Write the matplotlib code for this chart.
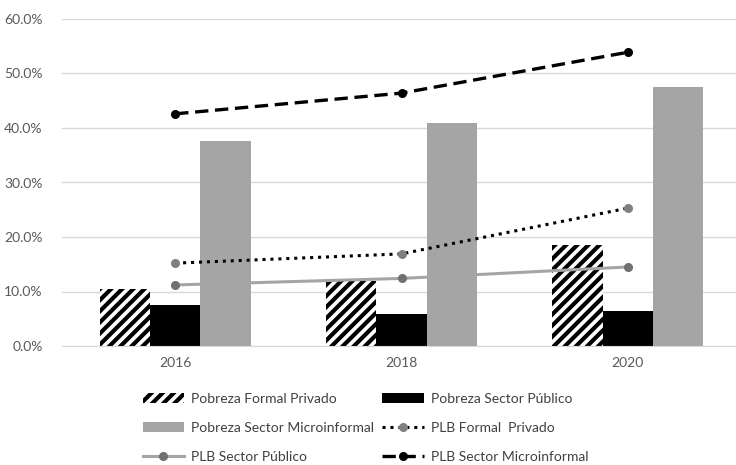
import numpy as np
import matplotlib.pyplot as plt
from matplotlib.ticker import PercentFormatter

plt.rcParams['font.family'] = ['Lato', 'DejaVu Sans']
plt.rcParams['hatch.linewidth'] = 3.0

# data (percent)
years = ['2016', '2018', '2020']
pobreza_formal_privado = [10.5, 11.9, 18.5]
pobreza_sector_publico = [7.5, 5.9, 6.4]
pobreza_sector_micro = [37.6, 40.9, 47.5]
plb_formal_privado = [15.2, 16.9, 25.3]
plb_sector_publico = [11.2, 12.4, 14.5]
plb_sector_micro = [42.6, 46.4, 53.9]

fig = plt.figure(figsize=(7.36, 4.65), dpi=100)
ax = fig.add_axes([62 / 736, (465 - 346) / 465, 679 / 736, (346 - 19) / 465])

x = np.arange(len(years))
w = 0.222

b1 = ax.bar(x - w, pobreza_formal_privado, w, color='white', edgecolor='black',
            hatch='///', linewidth=0, label='Pobreza Formal Privado')
b2 = ax.bar(x, pobreza_sector_publico, w, color='black',
            label='Pobreza Sector Público')
b3 = ax.bar(x + w, pobreza_sector_micro, w, color='#A5A5A5',
            label='Pobreza Sector Microinformal')

l1, = ax.plot(x, plb_formal_privado, color='black', linestyle=(0, (1, 1.6)),
              linewidth=2.2, marker='o', markersize=5.5, markerfacecolor='#7F7F7F',
              markeredgecolor='#7F7F7F', label='PLB Formal  Privado')
l2, = ax.plot(x, plb_sector_publico, color='#A5A5A5', linewidth=2.2,
              marker='o', markersize=5.5, markerfacecolor='#707070',
              markeredgecolor='#707070', label='PLB Sector Público')
l3, = ax.plot(x, plb_sector_micro, color='black', linestyle=(0, (4, 2)),
              linewidth=2.4, marker='o', markersize=5.5, markerfacecolor='black',
              markeredgecolor='black', label='PLB Sector Microinformal')

ax.set_xlim(-0.5, 2.5)
ax.set_ylim(0, 60)
ax.set_yticks(np.arange(0, 61, 10))
ax.yaxis.set_major_formatter(PercentFormatter(decimals=1))
ax.set_xticks(x)
ax.set_xticklabels(years)
ax.tick_params(length=0, labelsize=10, colors='#595959', pad=8)
ax.tick_params(axis='y', pad=14)
ax.grid(axis='y', color='#D9D9D9', linewidth=1)
ax.set_axisbelow(True)
for s in ['top', 'right', 'left']:
    ax.spines[s].set_visible(False)
ax.spines['bottom'].set_color('#D9D9D9')

handles = [b1, b3, l2, b2, l1, l3]
leg = fig.legend(handles, [h.get_label() for h in handles], ncol=2,
                 loc='upper left', bbox_to_anchor=(130 / 736, 1 - 380 / 465),
                 frameon=False, fontsize=10, handlelength=3.0,
                 columnspacing=0.6, labelspacing=1.25, handletextpad=0.5)
for t in leg.get_texts():
    t.set_color('#404040')

fig.savefig('out.png', dpi=100)
